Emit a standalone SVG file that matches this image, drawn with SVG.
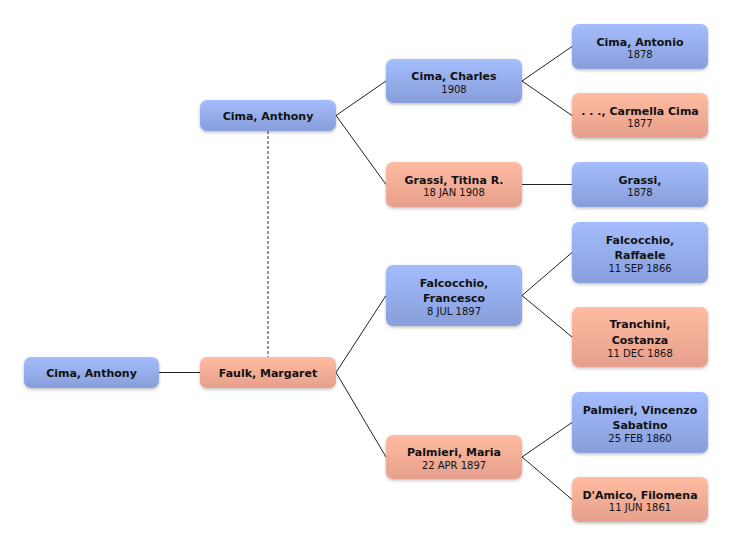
<svg xmlns="http://www.w3.org/2000/svg" width="732" height="546" viewBox="0 0 732 546">
<defs>
<linearGradient id="gb" x1="0" y1="0" x2="0" y2="1"><stop offset="0" stop-color="#a4bdfc"/><stop offset="1" stop-color="#889edb"/></linearGradient>
<linearGradient id="gp" x1="0" y1="0" x2="0" y2="1"><stop offset="0" stop-color="#ffbca1"/><stop offset="1" stop-color="#e69f8c"/></linearGradient>
<filter id="sh" x="-10%" y="-20%" width="120%" height="150%"><feDropShadow dx="0" dy="1.5" stdDeviation="1.5" flood-color="#000" flood-opacity="0.25"/></filter>
</defs>
<style>
.m{fill:url(#gb);filter:url(#sh)}
.f{fill:url(#gp);filter:url(#sh)}
.n{font-family:"DejaVu Sans",sans-serif;font-weight:bold;font-size:11px;fill:#111;text-anchor:middle}
.d{font-family:"DejaVu Sans",sans-serif;font-size:10px;fill:#111;text-anchor:middle}
.c{stroke:#222;stroke-width:1;fill:none}
.s{stroke:#777;stroke-width:1.5;stroke-dasharray:3,2;fill:none}
</style>
<rect width="732" height="546" fill="#fff"/>
<g id="connectors">
<line class="s" x1="268" y1="131" x2="268" y2="357"/>
<polyline class="c" points="386,81 336,115.5 386,184.5"/>
<polyline class="c" points="572,46.5 522,81 572,115.5"/>
<line class="c" x1="522" y1="184.5" x2="572" y2="184.5"/>
<line class="c" x1="159" y1="372.5" x2="200" y2="372.5"/>
<polyline class="c" points="386,295.5 336,372.5 386,457"/>
<polyline class="c" points="572,252.5 522,295.5 572,337"/>
<polyline class="c" points="572,422.5 522,457 572,499.5"/>
</g>
<g id="n_anthony_top"><rect class="m" x="200" y="100" width="136" height="31" rx="7"/><text class="n" x="268" y="119.5">Cima, Anthony</text></g>
<g id="n_charles"><rect class="m" x="386" y="59" width="136" height="44" rx="7"/><text class="n" x="454" y="80">Cima, Charles</text><text class="d" x="454" y="92.5">1908</text></g>
<g id="n_titina"><rect class="f" x="386" y="162" width="136" height="45" rx="7"/><text class="n" x="454" y="183.5">Grassi, Titina R.</text><text class="d" x="454" y="196">18 JAN 1908</text></g>
<g id="n_antonio"><rect class="m" x="572" y="24" width="136" height="45" rx="7"/><text class="n" x="640" y="45.5">Cima, Antonio</text><text class="d" x="640" y="58">1878</text></g>
<g id="n_carmella"><rect class="f" x="572" y="93" width="136" height="45" rx="7"/><text class="n" x="640" y="114.5">. . ., Carmella Cima</text><text class="d" x="640" y="127">1877</text></g>
<g id="n_grassi"><rect class="m" x="572" y="162" width="136" height="45" rx="7"/><text class="n" x="640" y="183.5">Grassi,</text><text class="d" x="640" y="196">1878</text></g>
<g id="n_anthony_root"><rect class="m" x="24" y="357" width="135" height="31" rx="7"/><text class="n" x="91.5" y="376.5">Cima, Anthony</text></g>
<g id="n_faulk"><rect class="f" x="200" y="357" width="136" height="31" rx="7"/><text class="n" x="268" y="376.5">Faulk, Margaret</text></g>
<g id="n_francesco"><rect class="m" x="386" y="265" width="136" height="61" rx="7"/><text class="n" x="454" y="286.5">Falcocchio,</text><text class="n" x="454" y="302">Francesco</text><text class="d" x="454" y="315">8 JUL 1897</text></g>
<g id="n_maria"><rect class="f" x="386" y="435" width="136" height="44" rx="7"/><text class="n" x="454" y="456">Palmieri, Maria</text><text class="d" x="454" y="468.5">22 APR 1897</text></g>
<g id="n_raffaele"><rect class="m" x="572" y="222" width="136" height="61" rx="7"/><text class="n" x="640" y="243.5">Falcocchio,</text><text class="n" x="640" y="259">Raffaele</text><text class="d" x="640" y="272">11 SEP 1866</text></g>
<g id="n_costanza"><rect class="f" x="572" y="307" width="136" height="60" rx="7"/><text class="n" x="640" y="328">Tranchini,</text><text class="n" x="640" y="343.5">Costanza</text><text class="d" x="640" y="356.5">11 DEC 1868</text></g>
<g id="n_vincenzo"><rect class="m" x="572" y="392" width="136" height="61" rx="7"/><text class="n" x="640" y="413.5">Palmieri, Vincenzo</text><text class="n" x="640" y="429">Sabatino</text><text class="d" x="640" y="442">25 FEB 1860</text></g>
<g id="n_filomena"><rect class="f" x="572" y="477" width="136" height="45" rx="7"/><text class="n" x="640" y="498.5">D'Amico, Filomena</text><text class="d" x="640" y="511">11 JUN 1861</text></g>
</svg>
